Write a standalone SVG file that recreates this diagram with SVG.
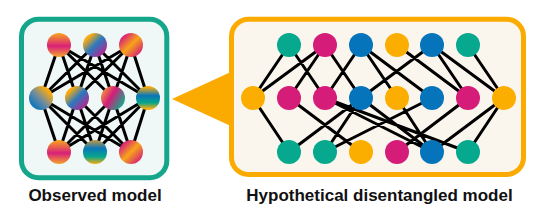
<svg xmlns="http://www.w3.org/2000/svg" width="543" height="213" viewBox="0 0 543 213">
<style>
.e{stroke:#000;stroke-width:3;stroke-linecap:round;fill:none}
.g{fill:#06a88e}.m{fill:#d41c78}.b{fill:#0574ba}.o{fill:#fbae00}
.lbl{font-family:"Liberation Sans",Arial,sans-serif;font-weight:bold;font-size:17px;fill:#111;text-anchor:middle}
</style>
<defs>
<linearGradient id="gV1" x1="0" y1="0" x2="0" y2="1"><stop offset="0" stop-color="#f9a61c"/><stop offset="0.55" stop-color="#d8207a"/><stop offset="1" stop-color="#f6a52a"/></linearGradient>
<linearGradient id="gD1" x1="0" y1="0" x2="1" y2="1"><stop offset="0.2" stop-color="#f9ab10"/><stop offset="0.5" stop-color="#2a7ac0"/><stop offset="0.85" stop-color="#b02a90"/></linearGradient>
<linearGradient id="gD2" x1="0" y1="0" x2="1" y2="1"><stop offset="0.15" stop-color="#d81e7a"/><stop offset="0.5" stop-color="#f7a41a"/><stop offset="0.9" stop-color="#d41c78"/></linearGradient>
<linearGradient id="gD3" x1="1" y1="0" x2="0" y2="1"><stop offset="0.2" stop-color="#f9ab10"/><stop offset="0.55" stop-color="#6a8aa4"/><stop offset="0.85" stop-color="#0a74bc"/></linearGradient>
<linearGradient id="gD4" x1="0" y1="0" x2="1" y2="0.6"><stop offset="0.1" stop-color="#f59a3a"/><stop offset="0.5" stop-color="#d41c78"/><stop offset="0.95" stop-color="#2a9a8a"/></linearGradient>
<linearGradient id="gV2" x1="0" y1="0" x2="0" y2="1"><stop offset="0.05" stop-color="#f6ac10"/><stop offset="0.4" stop-color="#0876b8"/><stop offset="0.7" stop-color="#07a48c"/><stop offset="0.95" stop-color="#f9ae10"/></linearGradient>
<linearGradient id="gV3" x1="0" y1="0" x2="0" y2="1"><stop offset="0" stop-color="#c79a40"/><stop offset="0.35" stop-color="#0a78b8"/><stop offset="0.7" stop-color="#08a68c"/><stop offset="1" stop-color="#f9ae10"/></linearGradient>
</defs>

<g id="observed-box">
<rect x="21.5" y="19.2" width="145.3" height="158.5" rx="17" fill="#eff8f6" stroke="#13a68b" stroke-width="5"/>
</g>
<g id="hypothetical-box">
<rect x="231.5" y="19.2" width="292" height="155.3" rx="17" fill="#faf6ee" stroke="#fbab00" stroke-width="5"/>
<polygon points="172,99 233,71 233,127" fill="#fbab00"/>
</g>

<g id="connectors">
<g id="observed-edges">
<path class="e" d="M59,45L41,98M59,45L77,98M59,45L113,98M59,45L148,98M95,45L41,98M95,45L77,98M95,45L113,98M95,45L148,98M131,45L41,98M131,45L77,98M131,45L113,98M131,45L148,98"/>
<path class="e" d="M41,98L59,152M41,98L95,152M41,98L131,152M77,98L59,152M77,98L95,152M77,98L131,152M113,98L59,152M113,98L95,152M113,98L131,152M148,98L59,152M148,98L95,152M148,98L131,152"/>
</g>
<g id="hypothetical-edges">
<path class="e" d="M253,98L289,45M253,98L325,45M253,98L289,152
M289,45L325,98M325,45L289,98M325,45L361,98M361,45L325,98M361,45L397,98M361,45L432,98
M397,45L468,98M432,45L361,98M432,45L468,98M432,45L504,98M468,45L504,98
M289,98L361,152M325,98L432,152M325,98L468,152M289,152L361,98M325,152L361,98M325,152L432,98
M361,98L432,152M397,98L432,152M397,152L468,98M504,98L432,152M504,98L468,152"/>
</g>
</g>

<g id="observed-nodes">
<g id="o-t1"><circle cx="59" cy="45" r="12" fill="url(#gV1)"/></g>
<g id="o-t2"><circle cx="95" cy="45" r="12" fill="url(#gD1)"/></g>
<g id="o-t3"><circle cx="131" cy="45" r="12" fill="url(#gD2)"/></g>
<g id="o-m1"><circle cx="41" cy="98" r="12" fill="url(#gD3)"/></g>
<g id="o-m2"><circle cx="77" cy="98" r="12" fill="url(#gD1)"/></g>
<g id="o-m3"><circle cx="113" cy="98" r="12" fill="url(#gD4)"/></g>
<g id="o-m4"><circle cx="148" cy="98" r="12" fill="url(#gV2)"/></g>
<g id="o-b1"><circle cx="59" cy="152" r="12" fill="url(#gV1)"/></g>
<g id="o-b2"><circle cx="95" cy="152" r="12" fill="url(#gV3)"/></g>
<g id="o-b3"><circle cx="131" cy="152" r="12" fill="url(#gD2)"/></g>
</g>

<g id="hypothetical-nodes">
<g id="h-t1"><circle class="g" cx="289" cy="45" r="12"/></g>
<g id="h-t2"><circle class="m" cx="325" cy="45" r="12"/></g>
<g id="h-t3"><circle class="b" cx="361" cy="45" r="12"/></g>
<g id="h-t4"><circle class="o" cx="397" cy="45" r="12"/></g>
<g id="h-t5"><circle class="b" cx="432" cy="45" r="12"/></g>
<g id="h-t6"><circle class="g" cx="468" cy="45" r="12"/></g>
<g id="h-l"><circle class="o" cx="253" cy="98" r="12"/></g>
<g id="h-m1"><circle class="m" cx="289" cy="98" r="12"/></g>
<g id="h-m2"><circle class="m" cx="325" cy="98" r="12"/></g>
<g id="h-m3"><circle class="b" cx="361" cy="98" r="12"/></g>
<g id="h-m4"><circle class="o" cx="397" cy="98" r="12"/></g>
<g id="h-m5"><circle class="b" cx="432" cy="98" r="12"/></g>
<g id="h-m6"><circle class="m" cx="468" cy="98" r="12"/></g>
<g id="h-r"><circle class="o" cx="504" cy="98" r="12"/></g>
<g id="h-b1"><circle class="g" cx="289" cy="152" r="12"/></g>
<g id="h-b2"><circle class="g" cx="325" cy="152" r="12"/></g>
<g id="h-b3"><circle class="o" cx="361" cy="152" r="12"/></g>
<g id="h-b4"><circle class="m" cx="397" cy="152" r="12"/></g>
<g id="h-b5"><circle class="b" cx="432" cy="152" r="12"/></g>
<g id="h-b6"><circle class="g" cx="468" cy="152" r="12"/></g>
</g>

<g id="labels">
<text class="lbl" x="95" y="201">Observed model</text>
<text class="lbl" x="379.5" y="201">Hypothetical disentangled model</text>
</g>
</svg>
